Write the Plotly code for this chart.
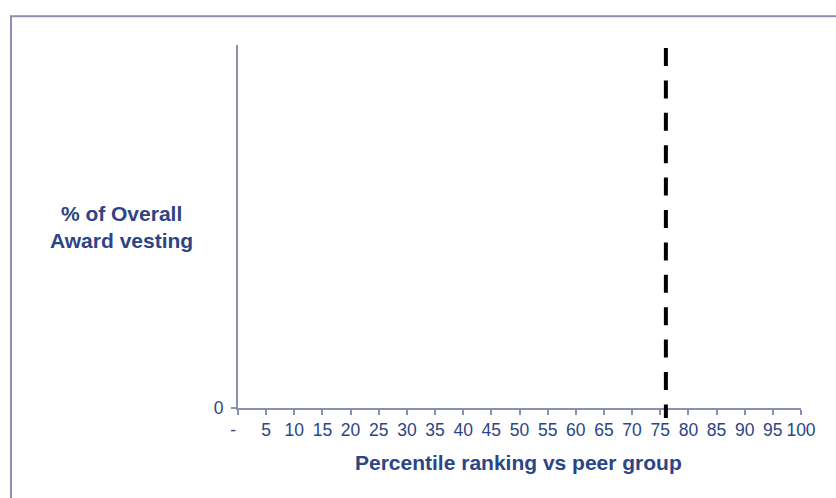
import plotly.graph_objects as go

# Data
x_ticks = [0, 5, 10, 15, 20, 25, 30, 35, 40, 45, 50, 55, 60, 65, 70, 75, 80, 85, 90, 95, 100]
x_tick_labels = ["-  "] + [str(v) for v in x_ticks[1:]]
y_ticks = [0]
y_tick_labels = ["0"]
threshold_percentile = 76
x_range = [0, 100]
y_range = [0, 1]

W, H = 836, 498
L, R, T, B = 238, 35, 45, 90
pw, ph = W - L - R, H - T - B

def px_x(p):
    return (p - L) / pw

def px_y(p):
    return (H - B - p) / ph

navy = "#2B4585"
axis_col = "#8A90AE"
font_fam = "Arial, Liberation Sans, sans-serif"

fig = go.Figure()
fig.add_trace(go.Scatter(x=[], y=[], mode="lines", showlegend=False))

fig.update_layout(
    width=W, height=H,
    margin=dict(l=L, r=R, t=T, b=B, pad=0),
    paper_bgcolor="white", plot_bgcolor="white",
    showlegend=False,
    font=dict(family=font_fam, color=navy, size=17),
    xaxis=dict(
        range=x_range, tickmode="array", tickvals=x_ticks, ticktext=x_tick_labels,
        showline=True, linecolor=axis_col, linewidth=2, ticks="outside",
        ticklen=5, tickwidth=1.5, tickcolor=axis_col, showgrid=False, zeroline=False,
        tickfont=dict(size=17.5, color=navy, family=font_fam), ticklabelstandoff=0,
    ),
    yaxis=dict(
        range=y_range, tickmode="array", tickvals=y_ticks, ticktext=y_tick_labels,
        showline=True, linecolor=axis_col, linewidth=2, ticks="outside",
        ticklen=5, tickwidth=1.5, tickcolor=axis_col, showgrid=False, zeroline=False,
        tickfont=dict(size=17.5, color=navy, family=font_fam), ticklabelstandoff=4,
    ),
)

# Outer border
fig.add_shape(type="rect", xref="paper", yref="paper",
              x0=px_x(11), x1=px_x(845), y0=px_y(505), y1=px_y(16.3),
              line=dict(color=axis_col, width=2), fillcolor="rgba(0,0,0,0)", layer="below")

# Dashed threshold line
fig.add_shape(type="line", xref="x", yref="paper",
              x0=threshold_percentile, x1=threshold_percentile,
              y0=px_y(48), y1=px_y(418),
              line=dict(color="black", width=4, dash="18px,14.4px"))

# Axis titles
fig.add_annotation(text="<b>% of Overall<br>Award vesting</b>", xref="paper", yref="paper",
                   x=px_x(121), y=px_y(226.5), showarrow=False, xanchor="center", yanchor="middle",
                   font=dict(size=21, color=navy, family=font_fam), align="center")
fig.add_annotation(text="<b>Percentile ranking vs peer group</b>", xref="paper", yref="paper",
                   x=px_x(518), y=px_y(462), showarrow=False, xanchor="center", yanchor="middle",
                   font=dict(size=21, color=navy, family=font_fam))

fig.write_html("out.html")
